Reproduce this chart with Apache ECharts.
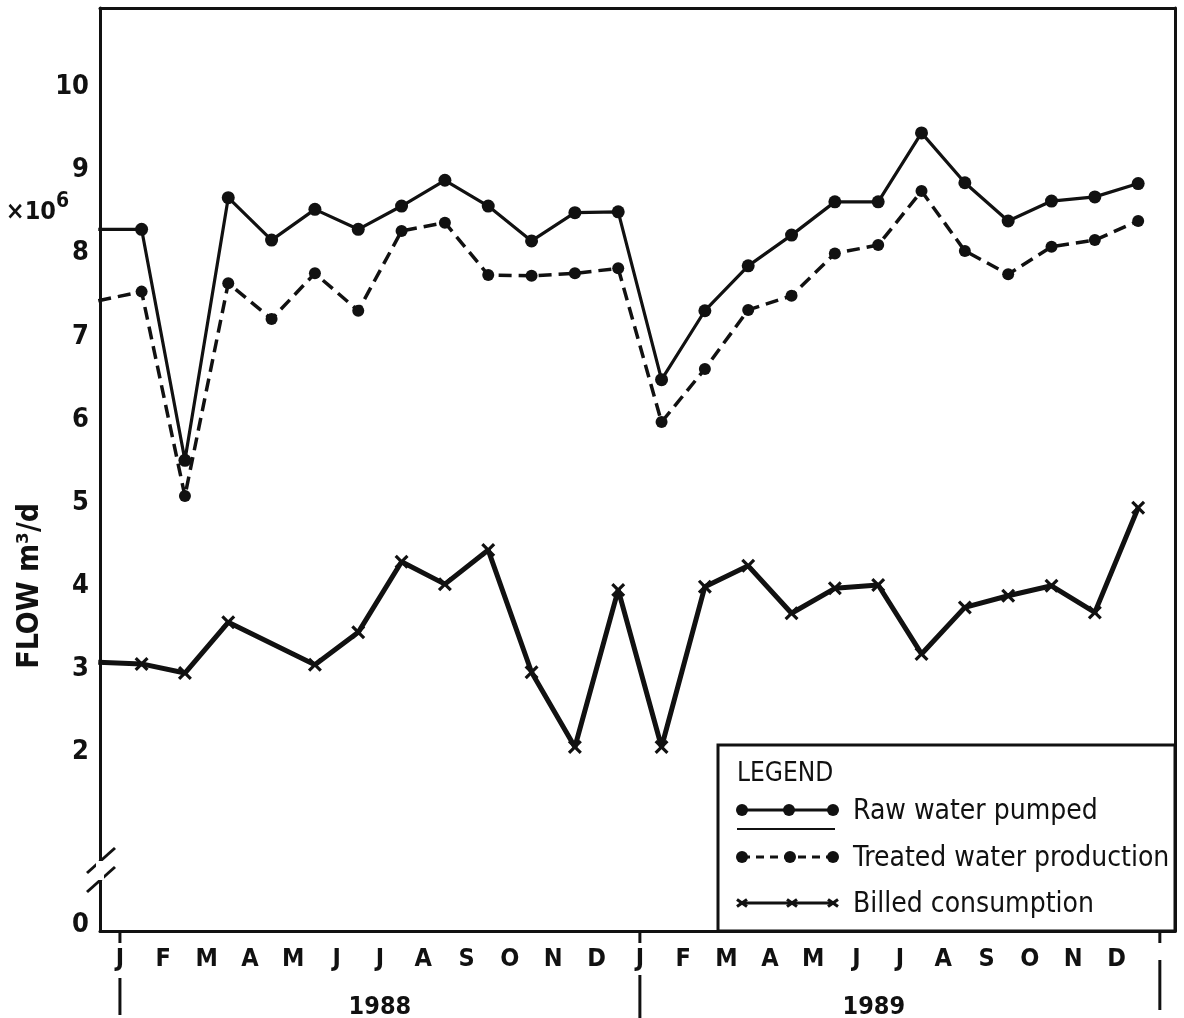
<!DOCTYPE html>
<html>
<head>
<meta charset="utf-8">
<script src="https://cdn.jsdelivr.net/npm/echarts@6/dist/echarts.min.js"></script>
<style>
  html, body { margin: 0; padding: 0; background: #fff; }
  #chart { width: 1184px; height: 1018px; }
</style>
</head>
<body>
<div id="chart"></div>
<script>
// Month initials along the time axis (two years, Jan 1988 .. Dec 1989)
const monthLabels = ['J','F','M','A','M','J','J','A','S','O','N','D',
                     'J','F','M','A','M','J','J','A','S','O','N','D'];
const yearLabels = ['1988', '1989'];

// Monthly flows in 10^6 m³/d. The first entry is December 1987,
// which only shows as the line running in from the left edge.
const rawWater = [8.29, 8.29, 5.51, 8.67, 8.16, 8.53, 8.29, 8.57, 8.88, 8.57, 8.15, 8.49, 8.50,
                  6.48, 7.31, 7.85, 8.22, 8.62, 8.62, 9.45, 8.85, 8.39, 8.63, 8.68, 8.84];
const treatedWater = [7.43, 7.54, 5.08, 7.64, 7.21, 7.76, 7.31, 8.27, 8.37, 7.74, 7.73, 7.76, 7.82,
                      5.97, 6.61, 7.32, 7.49, 8.00, 8.10, 8.75, 8.03, 7.75, 8.08, 8.16, 8.39];
// April 1988 has no billing figure
const billedConsumption = [3.08, 3.06, 2.95, 3.56, null, 3.05, 3.44, 4.29, 4.02, 4.43, 2.96, 2.06, 3.95,
                           2.06, 3.99, 4.24, 3.67, 3.97, 4.01, 3.18, 3.74, 3.88, 4.00, 3.68, 4.94];

const yTickValues = [0, 2, 3, 4, 5, 6, 7, 8, 9, 10];

// Axis extents; the value axis is broken between 0 and 2
const Y_MIN = -0.154, Y_MAX = 10.953;
const ZERO_LABEL_AT = -0.08;
const X_MIN = -0.46, X_MAX = 24.35;
const YEAR_STARTS = [0, 12, 24];

const FONT = "'DejaVu Sans Condensed', 'DejaVu Sans', sans-serif";
const INK = '#111';

// points sit at mid-month; index 0 is the December before the axis starts
function monthlyPoints(values) {
  const out = [];
  values.forEach((v, i) => {
    if (v == null) return;
    const item = { value: [i - 0.5, v] };
    if (i === 0) item.symbol = 'none';
    out.push(item);
  });
  return out;
}

const CROSS = 'path://M0,1.6L1.6,0L5,3.4L8.4,0L10,1.6L6.6,5L10,8.4L8.4,10L5,6.6L1.6,10L0,8.4L3.4,5Z';

const chart = echarts.init(document.getElementById('chart'), null, { renderer: 'canvas' });

const option = {
  animation: false,
  backgroundColor: '#fff',
  grid: { left: 100, right: 9, top: 8, bottom: 87, containLabel: false, outerBoundsMode: 'none' },
  xAxis: [
    {
      type: 'value', min: X_MIN, max: X_MAX, position: 'bottom',
      axisLine: { show: true, onZero: false, lineStyle: { color: INK, width: 3 } },
      axisTick: { show: false },
      axisLabel: {
        customValues: monthLabels.map((_, i) => i),
        formatter: v => monthLabels[Math.round(v)] || '',
        margin: 16, color: INK, fontFamily: FONT, fontWeight: 'bold', fontSize: 25
      },
      splitLine: { show: false }
    },
    {
      // year band under the month initials
      type: 'value', min: X_MIN, max: X_MAX, position: 'bottom', offset: 42,
      axisLine: { show: false },
      axisTick: { show: false },
      axisLabel: {
        customValues: [6, 17.4],
        formatter: v => (v < 12 ? yearLabels[0] : yearLabels[1]),
        margin: 22, color: INK, fontFamily: FONT, fontWeight: 'bold', fontSize: 25
      },
      splitLine: { show: false }
    },
    {
      type: 'value', min: 0, max: 1, position: 'top',
      axisLine: { show: true, onZero: false, lineStyle: { color: INK, width: 3 } },
      axisTick: { show: false }, axisLabel: { show: false }, splitLine: { show: false }
    }
  ],
  yAxis: [
    {
      type: 'value', min: Y_MIN, max: Y_MAX, position: 'left',
      axisLine: { show: true, onZero: false, lineStyle: { color: INK, width: 3 } },
      axisTick: { show: false },
      axisLabel: {
        customValues: yTickValues.map(v => (v === 0 ? ZERO_LABEL_AT : v)),
        formatter: v => (v < 1 ? '0' : String(Math.round(v))),
        margin: 11, color: INK, fontFamily: FONT, fontWeight: 'bold', fontSize: 27
      },
      splitLine: { show: false }
    },
    {
      type: 'value', min: 0, max: 1, position: 'right',
      axisLine: { show: true, onZero: false, lineStyle: { color: INK, width: 3 } },
      axisTick: { show: false }, axisLabel: { show: false }, splitLine: { show: false }
    }
  ],
  series: [
    {
      name: 'Raw water pumped', type: 'line', xAxisIndex: 0, yAxisIndex: 0,
      data: monthlyPoints(rawWater), clip: true,
      symbol: 'circle', symbolSize: 13,
      itemStyle: { color: INK },
      lineStyle: { color: INK, width: 3.2 },
      emphasis: { disabled: true }, z: 3
    },
    {
      name: 'Treated water production', type: 'line', xAxisIndex: 0, yAxisIndex: 0,
      data: monthlyPoints(treatedWater), clip: true,
      symbol: 'circle', symbolSize: 12,
      itemStyle: { color: INK },
      lineStyle: { color: INK, width: 3.5, type: [13, 7] },
      emphasis: { disabled: true }, z: 3
    },
    {
      name: 'Billed consumption', type: 'line', xAxisIndex: 0, yAxisIndex: 0,
      data: monthlyPoints(billedConsumption), clip: true,
      symbol: CROSS, symbolSize: 14,
      itemStyle: { color: INK },
      lineStyle: { color: INK, width: 5 },
      emphasis: { disabled: true }, z: 3
    }
  ]
};

chart.setOption(option);

// Decorations placed from the axis scales: axis break, year marks, unit, axis title, legend box
const toPx = (x, y) => chart.convertToPixel({ xAxisIndex: 0, yAxisIndex: 0 }, [x, y]);
const axisX = toPx(X_MIN, 0)[0];
const breakY = toPx(0, 0.58)[1];
const titleY = toPx(0, 4.0)[1];
const unitY = toPx(0, 8.55)[1];
const gridRight = toPx(X_MAX, 0)[0];
const gridBottom = toPx(0, Y_MIN)[1];

const legendLeft = 718, legendTop = 745;
const lw = gridRight - legendLeft, lh = gridBottom - legendTop;

function dot(cx, cy, r) {
  return { type: 'circle', shape: { cx, cy, r }, style: { fill: INK } };
}
function seg(x1, y1, x2, y2, w, dash) {
  return { type: 'line', shape: { x1, y1, x2, y2 }, style: { stroke: INK, lineWidth: w, lineDash: dash || null } };
}
function cross(cx, cy, s) {
  return {
    type: 'group', x: cx, y: cy,
    children: [seg(-s, -s * 0.7, s, s * 0.7, 3), seg(-s, s * 0.7, s, -s * 0.7, 3)]
  };
}
const legendFont = '28px ' + FONT;

// year boundary marks: a short tick under the axis and a long bar beside the year labels
const yearMarks = [];
const barSpans = [[978, 1015], [975, 1018], [960, 1010]];
YEAR_STARTS.forEach((m, i) => {
  const x = toPx(m, 0)[0];
  yearMarks.push(seg(x, gridBottom, x, gridBottom + 12, 3));
  yearMarks.push(seg(x, barSpans[i][0], x, barSpans[i][1], 3));
});

chart.setOption({
  graphic: [
    ...yearMarks,
    // axis break on the value axis
    { type: 'rect', shape: { x: axisX - 4, y: breakY - 9, width: 8, height: 19 }, style: { fill: '#fff' }, z: 10 },
    seg(axisX - 13, breakY + 3, axisX + 15, breakY - 22, 3),
    seg(axisX - 13, breakY + 22, axisX + 15, breakY - 3, 3),
    // unit multiplier
    { type: 'text', x: 56, y: unitY + 5, style: { text: '×10', font: 'bold 25px ' + FONT, fill: INK, align: 'right', verticalAlign: 'middle' } },
    { type: 'text', x: 56, y: unitY - 6, style: { text: '6', font: 'bold 21px ' + FONT, fill: INK, align: 'left', verticalAlign: 'middle' } },
    // axis title
    { type: 'text', x: 30, y: titleY, rotation: Math.PI / 2,
      style: { text: 'FLOW m³/d', font: 'bold 30px ' + FONT, fill: INK, align: 'center', verticalAlign: 'middle' } },
    // legend box
    {
      type: 'group', x: legendLeft, y: legendTop, z: 20,
      children: [
        { type: 'rect', shape: { x: 0, y: 0, width: lw, height: lh }, style: { fill: '#fff', stroke: INK, lineWidth: 3 } },
        { type: 'text', x: 19, y: 29, style: { text: 'LEGEND', font: '26px ' + FONT, fill: INK, verticalAlign: 'middle' } },

        seg(24, 65, 115, 65, 3), dot(24, 65, 6), dot(71, 65, 6), dot(115, 65, 6),
        seg(19, 84, 117, 84, 2),
        { type: 'text', x: 135, y: 67, style: { text: 'Raw water pumped', font: legendFont, fill: INK, verticalAlign: 'middle' } },

        seg(24, 112, 115, 112, 3, [8, 6]), dot(24, 112, 6), dot(72, 112, 6), dot(115, 112, 6),
        { type: 'text', x: 135, y: 114, style: { text: 'Treated water production', font: legendFont, fill: INK, verticalAlign: 'middle' } },

        seg(24, 158, 115, 158, 3), cross(24, 158, 5), cross(74, 158, 5), cross(115, 158, 5),
        { type: 'text', x: 135, y: 160, style: { text: 'Billed consumption', font: legendFont, fill: INK, verticalAlign: 'middle' } }
      ]
    }
  ]
});
</script>
</body>
</html>
